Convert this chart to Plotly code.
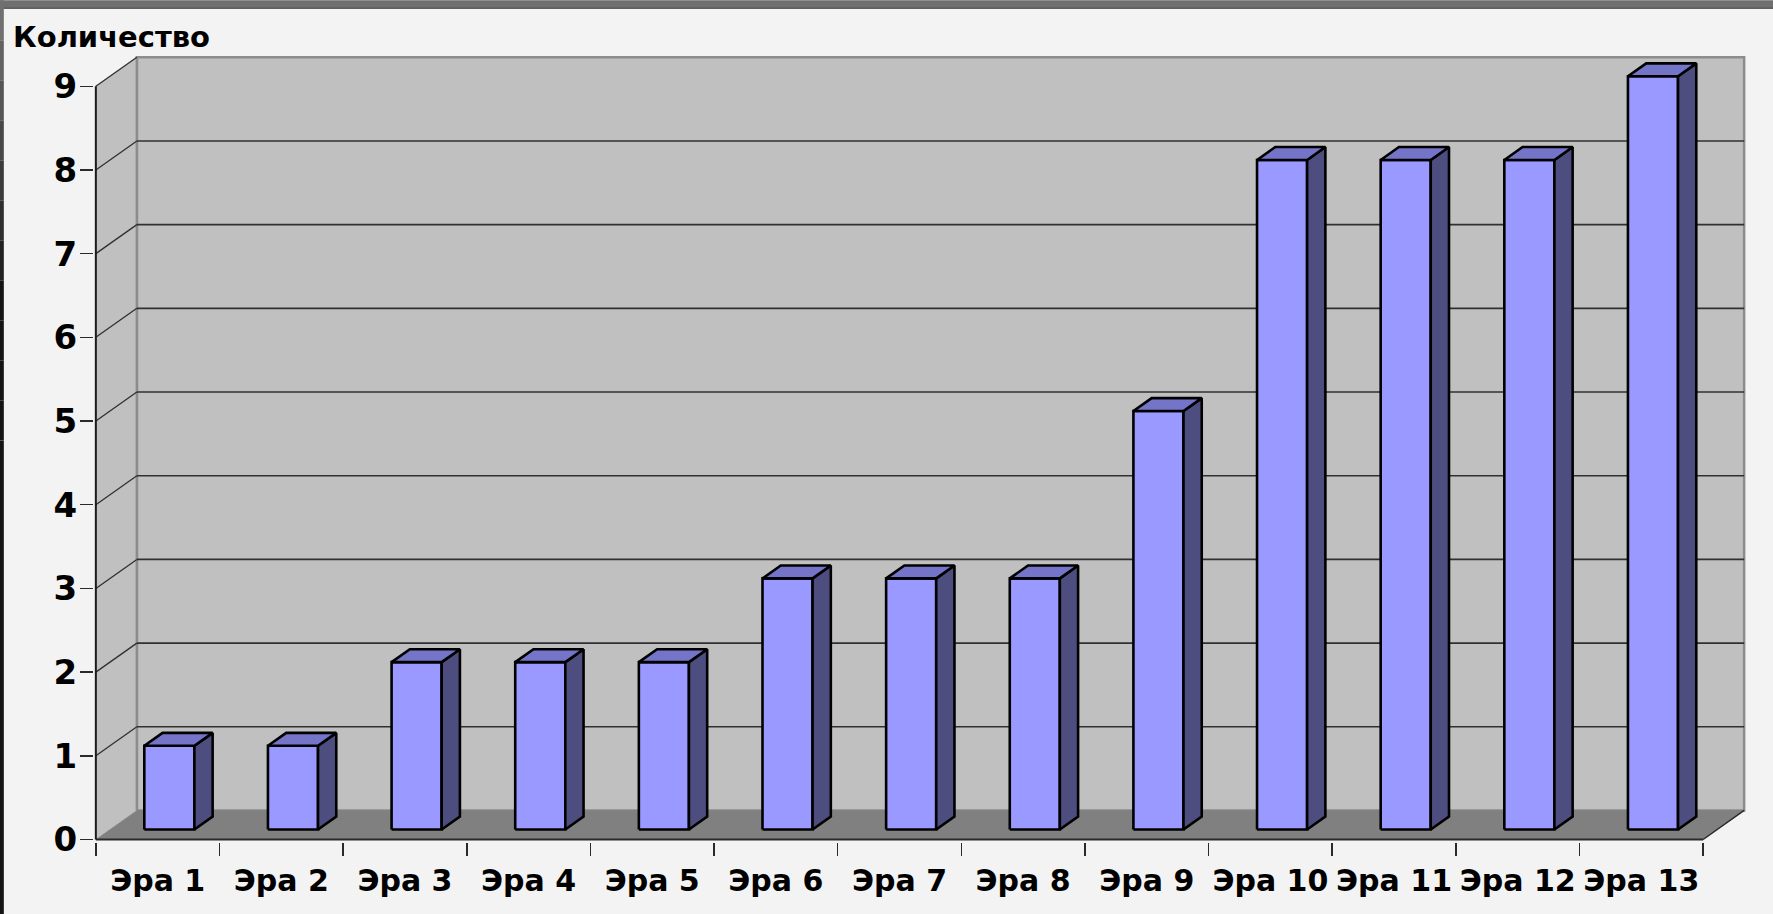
import plotly.graph_objects as go

# ---------------- data ----------------
categories = ["Эра 1", "Эра 2", "Эра 3", "Эра 4", "Эра 5", "Эра 6", "Эра 7",
              "Эра 8", "Эра 9", "Эра 10", "Эра 11", "Эра 12", "Эра 13"]
values = [1, 1, 2, 2, 2, 3, 3, 3, 5, 8, 8, 8, 9]
y_ticks = [0, 1, 2, 3, 4, 5, 6, 7, 8, 9]
y_title = "Количество"

# ---------------- style / projection ----------------
W_FIG, H_FIG = 1773, 914
PXX, PXY = 123.6, 83.67          # pixels per data unit
X0_PX, Y0_PX = 96, 839           # pixel position of data origin (front plane)
DEPTH_PX = (41, 29)              # oblique depth offset in pixels
DX, DY = DEPTH_PX[0] / PXX, DEPTH_PX[1] / PXY
F0, F1 = 0.345, 0.79             # bar front/back position within depth
BAR_W = 0.405                    # bar width in category units
BAR_SHIFT = -0.02

N = len(categories)
YMAX = max(y_ticks)

xr = [-0.015, N + DX + 0.015]
yr = [-0.03, YMAX + DY + 0.015]
l = X0_PX + xr[0] * PXX
wdom = (xr[1] - xr[0]) * PXX
r = W_FIG - l - wdom
bot_px = Y0_PX - yr[0] * PXY
top_px = Y0_PX - yr[1] * PXY
hdom = bot_px - top_px
b = H_FIG - bot_px
t = top_px

FONT = "DejaVu Sans"
WALL = "#c0c0c0"
FLOOR = "#808080"
GRID = "#303030"
FRONT = "#9999ff"
SIDE = "#4d4d80"
TOP = "#7474c8"

fig = go.Figure()


def poly(xs, ys, fill, line_color, line_width):
    fig.add_trace(go.Scatter(
        x=list(xs) + [xs[0]], y=list(ys) + [ys[0]], mode="lines",
        fill="toself", fillcolor=fill,
        line=dict(color=line_color, width=line_width),
        hoverinfo="skip", showlegend=False))


def seg(xs, ys, color, width):
    fig.add_trace(go.Scatter(
        x=xs, y=ys, mode="lines", line=dict(color=color, width=width),
        hoverinfo="skip", showlegend=False))


# back wall
poly([DX, N + DX, N + DX, DX], [DY, DY, YMAX + DY, YMAX + DY], WALL, "#8c8c8c", 2.5)
# side wall
poly([0, 0, DX, DX], [0, YMAX, YMAX + DY, DY], WALL, WALL, 0.5)
seg([DX, DX], [DY, YMAX + DY], "#8c8c8c", 2.5)
# gridlines
for v in y_ticks[1:]:
    if v < YMAX:
        seg([DX, N + DX], [v + DY, v + DY], GRID, 1.6)
    seg([0, DX], [v, v + DY], GRID, 1.3)
# floor
poly([0, N, N + DX, DX], [0, 0, DY, DY], FLOOR, FLOOR, 0.5)

# bars
a, ay = F0 * DX, F0 * DY
bb, by = F1 * DX, F1 * DY
for i, v in enumerate(values):
    c = i + 0.5 + BAR_SHIFT
    xl, xrr = c - BAR_W / 2, c + BAR_W / 2
    poly([xl + a, xrr + a, xrr + a, xl + a], [ay, ay, v + ay, v + ay], FRONT, "black", 2.6)
    poly([xrr + a, xrr + bb, xrr + bb, xrr + a], [ay, by, v + by, v + ay], SIDE, "black", 2.6)
    poly([xl + a, xrr + a, xrr + bb, xl + bb], [v + ay, v + ay, v + by, v + by], TOP, "black", 2.6)

# front axis lines
seg([0, N], [0, 0], "#2a2a2a", 2)
seg([N, N + DX], [0, DY], "#2a2a2a", 1.5)
seg([0, 0], [0, YMAX], "#1a1a1a", 2)

# dummy trace on overlay axis so it renders
fig.add_trace(go.Scatter(x=[0], y=[0], xaxis="x2", mode="markers",
                         marker=dict(opacity=0), hoverinfo="skip", showlegend=False))


def px2paper_x(px):
    return (px - l) / wdom


def px2paper_y(py):
    return (bot_px - py) / hdom


shapes = [
    dict(type="rect", xref="paper", yref="paper",
         x0=px2paper_x(0), x1=px2paper_x(W_FIG), y0=px2paper_y(8), y1=px2paper_y(0),
         fillcolor="#6f6f6f", line=dict(width=0), layer="above"),
    dict(type="line", xref="paper", yref="paper",
         x0=px2paper_x(0), x1=px2paper_x(W_FIG), y0=px2paper_y(8), y1=px2paper_y(8),
         line=dict(color="#3c3c3c", width=1), layer="above"),
]
# left band with gradient from gray to black
steps = 12
for k in range(steps):
    y0p = k * 40
    y1p = (k + 1) * 40 if k < steps - 1 else H_FIG
    g = int(0x70 - (0x70 - 0x14) * min(1, k / 7))
    shapes.append(dict(type="rect", xref="paper", yref="paper",
                       x0=px2paper_x(0), x1=px2paper_x(4),
                       y0=px2paper_y(y1p), y1=px2paper_y(y0p),
                       fillcolor=f"rgb({g},{g},{g})", line=dict(width=0), layer="above"))

fig.update_layout(
    width=W_FIG, height=H_FIG,
    margin=dict(l=l, r=r, t=t, b=b, pad=0),
    paper_bgcolor="#f3f3f3", plot_bgcolor="rgba(0,0,0,0)",
    showlegend=False,
    title=dict(text=y_title, xref="container", yref="container",
               x=13 / W_FIG, xanchor="left", y=1 - 37 / H_FIG, yanchor="middle",
               font=dict(family=FONT, size=29, color="black", weight="bold")),
    xaxis=dict(range=xr, showgrid=False, zeroline=False, showline=False,
               tickmode="array", tickvals=[i + 0.5 for i in range(N)], ticktext=categories,
               ticks="", ticklabelstandoff=18,
               tickfont=dict(family=FONT, size=30, color="black", weight="bold")),
    xaxis2=dict(range=xr, overlaying="x", anchor="y", side="bottom",
                showgrid=False, zeroline=False, showline=False,
                tickmode="array", tickvals=list(range(N + 1)),
                ticks="outside", ticklen=13, tickwidth=1.5, tickcolor="#2a2a2a",
                showticklabels=False),
    yaxis=dict(range=yr, showgrid=False, zeroline=False, showline=False,
               tickmode="array", tickvals=y_ticks, ticktext=[str(v) for v in y_ticks],
               ticks="outside", ticklen=13, tickwidth=1.5, tickcolor="#2a2a2a",
               ticklabelstandoff=-4,
               tickfont=dict(family=FONT, size=34, color="black", weight="bold")),
    shapes=shapes,
)

fig.write_html(
    "out.html",
    config={"displayModeBar": False, "staticPlot": True},
    post_script="document.body.style.margin='0';document.body.style.overflow='hidden';",
)
